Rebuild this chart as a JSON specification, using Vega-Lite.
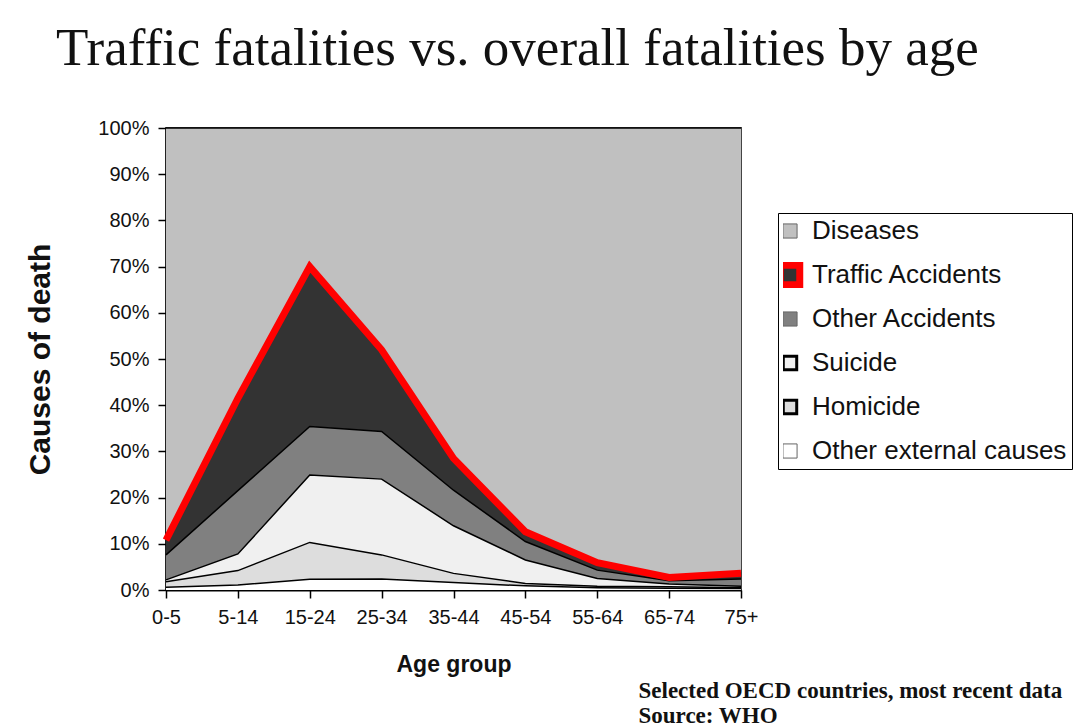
{
  "$schema": "https://vega.github.io/schema/vega-lite/v6.json",
  "autosize": "none",
  "width": 575,
  "height": 462,
  "padding": {"left": 166, "top": 128, "right": 346, "bottom": 136},
  "background": "white",
  "title": {
    "text": "Traffic fatalities vs. overall fatalities by age",
    "font": "Liberation Serif",
    "fontSize": 53,
    "fontWeight": "normal",
    "color": "#111111",
    "anchor": "start",
    "frame": "group",
    "baseline": "alphabetic",
    "dx": -110,
    "offset": 0
  },
  "data": {
    "values": [
      {"age": "0-5", "cause": "Other external causes", "rank": 1, "pct": 0.6},
      {"age": "0-5", "cause": "Homicide", "rank": 2, "pct": 1.2},
      {"age": "0-5", "cause": "Suicide", "rank": 3, "pct": 0.4},
      {"age": "0-5", "cause": "Other Accidents", "rank": 4, "pct": 5.4},
      {"age": "0-5", "cause": "Traffic Accidents", "rank": 5, "pct": 3.2},
      {"age": "0-5", "cause": "Diseases", "rank": 6, "pct": 89.2},
      {"age": "5-14", "cause": "Other external causes", "rank": 1, "pct": 1.1},
      {"age": "5-14", "cause": "Homicide", "rank": 2, "pct": 3.1},
      {"age": "5-14", "cause": "Suicide", "rank": 3, "pct": 3.6},
      {"age": "5-14", "cause": "Other Accidents", "rank": 4, "pct": 13.7},
      {"age": "5-14", "cause": "Traffic Accidents", "rank": 5, "pct": 20.0},
      {"age": "5-14", "cause": "Diseases", "rank": 6, "pct": 58.5},
      {"age": "15-24", "cause": "Other external causes", "rank": 1, "pct": 2.3},
      {"age": "15-24", "cause": "Homicide", "rank": 2, "pct": 8.0},
      {"age": "15-24", "cause": "Suicide", "rank": 3, "pct": 14.6},
      {"age": "15-24", "cause": "Other Accidents", "rank": 4, "pct": 10.5},
      {"age": "15-24", "cause": "Traffic Accidents", "rank": 5, "pct": 34.6},
      {"age": "15-24", "cause": "Diseases", "rank": 6, "pct": 30.0},
      {"age": "25-34", "cause": "Other external causes", "rank": 1, "pct": 2.4},
      {"age": "25-34", "cause": "Homicide", "rank": 2, "pct": 5.2},
      {"age": "25-34", "cause": "Suicide", "rank": 3, "pct": 16.4},
      {"age": "25-34", "cause": "Other Accidents", "rank": 4, "pct": 10.3},
      {"age": "25-34", "cause": "Traffic Accidents", "rank": 5, "pct": 17.7},
      {"age": "25-34", "cause": "Diseases", "rank": 6, "pct": 48.0},
      {"age": "35-44", "cause": "Other external causes", "rank": 1, "pct": 1.6},
      {"age": "35-44", "cause": "Homicide", "rank": 2, "pct": 2.0},
      {"age": "35-44", "cause": "Suicide", "rank": 3, "pct": 10.3},
      {"age": "35-44", "cause": "Other Accidents", "rank": 4, "pct": 7.7},
      {"age": "35-44", "cause": "Traffic Accidents", "rank": 5, "pct": 6.9},
      {"age": "35-44", "cause": "Diseases", "rank": 6, "pct": 71.5},
      {"age": "45-54", "cause": "Other external causes", "rank": 1, "pct": 0.9},
      {"age": "45-54", "cause": "Homicide", "rank": 2, "pct": 0.5},
      {"age": "45-54", "cause": "Suicide", "rank": 3, "pct": 5.1},
      {"age": "45-54", "cause": "Other Accidents", "rank": 4, "pct": 4.0},
      {"age": "45-54", "cause": "Traffic Accidents", "rank": 5, "pct": 2.1},
      {"age": "45-54", "cause": "Diseases", "rank": 6, "pct": 87.4},
      {"age": "55-64", "cause": "Other external causes", "rank": 1, "pct": 0.5},
      {"age": "55-64", "cause": "Homicide", "rank": 2, "pct": 0.3},
      {"age": "55-64", "cause": "Suicide", "rank": 3, "pct": 1.7},
      {"age": "55-64", "cause": "Other Accidents", "rank": 4, "pct": 1.8},
      {"age": "55-64", "cause": "Traffic Accidents", "rank": 5, "pct": 1.6},
      {"age": "55-64", "cause": "Diseases", "rank": 6, "pct": 94.1},
      {"age": "65-74", "cause": "Other external causes", "rank": 1, "pct": 0.4},
      {"age": "65-74", "cause": "Homicide", "rank": 2, "pct": 0.3},
      {"age": "65-74", "cause": "Suicide", "rank": 3, "pct": 0.6},
      {"age": "65-74", "cause": "Other Accidents", "rank": 4, "pct": 0.7},
      {"age": "65-74", "cause": "Traffic Accidents", "rank": 5, "pct": 0.7},
      {"age": "65-74", "cause": "Diseases", "rank": 6, "pct": 97.3},
      {"age": "75+", "cause": "Other external causes", "rank": 1, "pct": 0.3},
      {"age": "75+", "cause": "Homicide", "rank": 2, "pct": 0.2},
      {"age": "75+", "cause": "Suicide", "rank": 3, "pct": 0.3},
      {"age": "75+", "cause": "Other Accidents", "rank": 4, "pct": 1.6},
      {"age": "75+", "cause": "Traffic Accidents", "rank": 5, "pct": 1.2},
      {"age": "75+", "cause": "Diseases", "rank": 6, "pct": 96.4}
    ]
  },
  "layer": [
    {
      "mark": {"type": "area"},
      "encoding": {
        "x": {
          "field": "age",
          "type": "ordinal",
          "sort": ["0-5", "5-14", "15-24", "25-34", "35-44", "45-54", "55-64", "65-74", "75+"],
          "scale": {"type": "point", "padding": 0},
          "axis": {
            "title": "Age group",
            "labelAngle": 0,
            "labelFont": "Liberation Sans",
            "labelFontSize": 20,
            "labelColor": "#111111",
            "labelPadding": 9,
            "tickSize": 8,
            "tickColor": "#000000",
            "tickWidth": 1.5,
            "domainColor": "#000000",
            "domainWidth": 2,
            "titleFont": "Liberation Sans",
            "titleFontSize": 23,
            "titleFontWeight": "bold",
            "titleColor": "#111111",
            "titlePadding": 26,
            "grid": false
          }
        },
        "y": {
          "field": "pct",
          "type": "quantitative",
          "stack": "normalize",
          "scale": {"domain": [0, 1], "nice": false},
          "axis": {
            "title": "Causes of death",
            "values": [0, 0.1, 0.2, 0.3, 0.4, 0.5, 0.6, 0.7, 0.8, 0.9, 1],
            "format": ".0%",
            "labelFont": "Liberation Sans",
            "labelFontSize": 20,
            "labelColor": "#111111",
            "labelPadding": 9,
            "tickSize": 8,
            "tickColor": "#000000",
            "tickWidth": 1.5,
            "domainColor": "#000000",
            "domainWidth": 2,
            "titleFont": "Liberation Sans",
            "titleFontSize": 30,
            "titleFontWeight": "bold",
            "titleColor": "#111111",
            "titlePadding": 42,
            "grid": false
          }
        },
        "order": {"field": "rank", "type": "quantitative", "sort": "ascending"},
        "color": {
          "field": "cause",
          "type": "nominal",
          "scale": {
            "domain": ["Diseases", "Traffic Accidents", "Other Accidents", "Suicide", "Homicide", "Other external causes"],
            "range": ["#c0c0c0", "#333333", "#808080", "#f0f0f0", "#dddddd", "#ffffff"]
          },
          "legend": {
            "title": null,
            "orient": "none",
            "legendX": 612,
            "legendY": 85,
            "symbolType": "square",
            "symbolSize": {"expr": "datum.value === 'Traffic Accidents' ? 380 : (datum.value === 'Suicide' || datum.value === 'Homicide') ? 180 : 200"},
            "symbolStrokeColor": {"expr": "datum.value === 'Traffic Accidents' ? '#ff0000' : (datum.value === 'Suicide' || datum.value === 'Homicide') ? '#000000' : '#666666'"},
            "symbolStrokeWidth": {"expr": "datum.value === 'Traffic Accidents' ? 7 : (datum.value === 'Suicide' || datum.value === 'Homicide') ? 3 : 1"},
            "symbolOffset": -6,
            "symbolOpacity": 1,
            "clipHeight": 26,
            "labelFont": "Liberation Sans",
            "labelFontSize": 26,
            "labelColor": "#111111",
            "labelOffset": 9,
            "rowPadding": 18,
            "padding": 5,
            "strokeColor": "#000000",
            "fillColor": "#ffffff",
            "labelLimit": 400
          }
        }
      }
    },
    {
      "transform": [
        {"stack": "pct", "groupby": ["age"], "sort": [{"field": "rank", "order": "ascending"}], "offset": "normalize", "as": ["y0", "y1"]}
      ],
      "mark": {"type": "line", "color": "#000000", "strokeWidth": 1.5, "strokeJoin": "miter"},
      "encoding": {
        "x": {
          "field": "age",
          "type": "ordinal",
          "sort": ["0-5", "5-14", "15-24", "25-34", "35-44", "45-54", "55-64", "65-74", "75+"]
        },
        "y": {"field": "y1", "type": "quantitative", "axis": null},
        "detail": {"field": "cause", "type": "nominal"}
      }
    },
    {
      "transform": [
        {"stack": "pct", "groupby": ["age"], "sort": [{"field": "rank", "order": "ascending"}], "offset": "normalize", "as": ["y0", "y1"]},
        {"filter": "datum.cause === 'Traffic Accidents'"}
      ],
      "mark": {"type": "line", "color": "#ff0000", "strokeWidth": 7, "strokeJoin": "miter"},
      "encoding": {
        "x": {
          "field": "age",
          "type": "ordinal",
          "sort": ["0-5", "5-14", "15-24", "25-34", "35-44", "45-54", "55-64", "65-74", "75+"]
        },
        "y": {
          "field": "y1",
          "type": "quantitative",
          "axis": {
            "orient": "right",
            "labels": false,
            "ticks": false,
            "domain": false,
            "grid": false,
            "title": ["Selected OECD countries, most recent data", "Source: WHO"],
            "titleAngle": 0,
            "titleAlign": "left",
            "titleBaseline": "alphabetic",
            "titleX": -103,
            "titleY": 569,
            "titleFont": "Liberation Serif",
            "titleFontSize": 23,
            "titleFontWeight": "bold",
            "titleColor": "#111111",
            "titleLineHeight": 25
          }
        }
      }
    }
  ],
  "resolve": {"axis": {"y": "independent"}},
  "config": {
    "view": {"stroke": "#444444", "strokeWidth": 2}
  }
}
